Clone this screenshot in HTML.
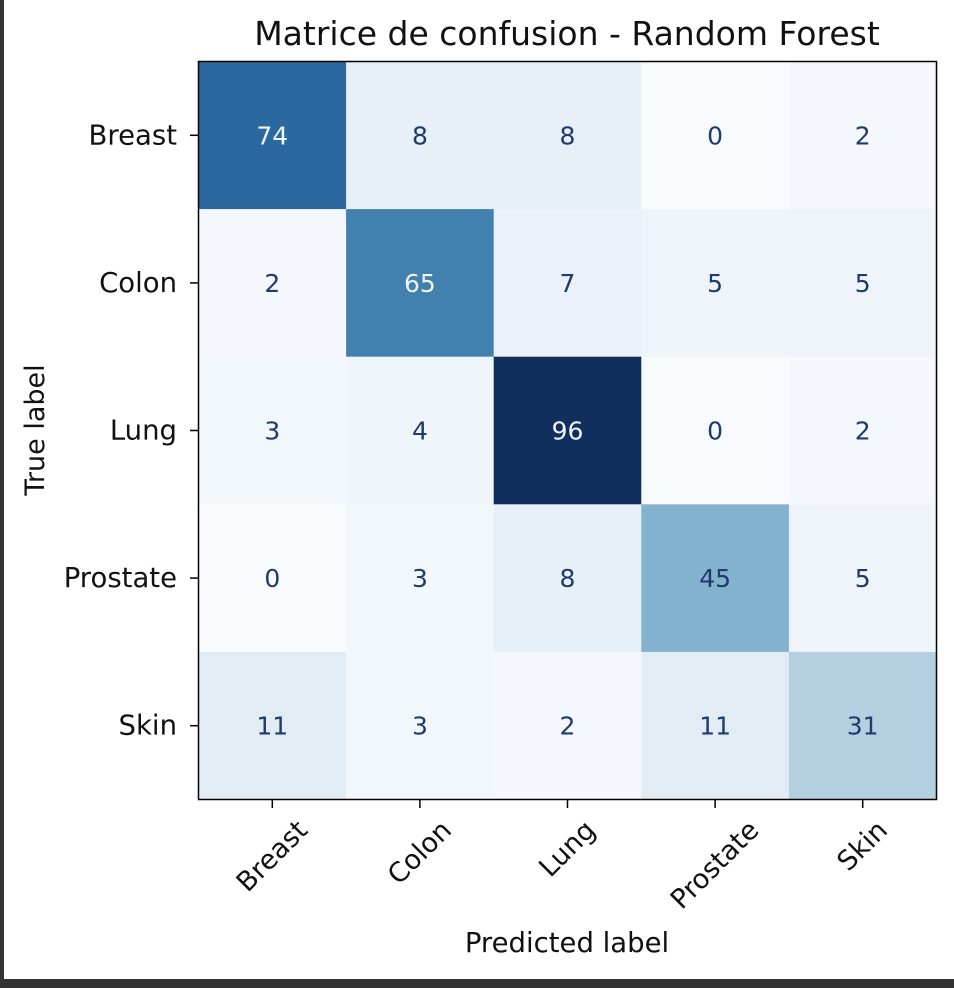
<!DOCTYPE html>
<html><head><meta charset="utf-8"><style>
html,body{margin:0;padding:0;background:#333;}
svg{display:block;font-family:"DejaVu Sans","Liberation Sans",sans-serif;}
</style></head><body>
<svg id="chart" width="954" height="988" viewBox="0 0 954 988">
<rect x="4" y="0" width="950" height="979" fill="#fff"/>
<text x="567" y="45" font-size="33" text-anchor="middle" fill="#111">Matrice de confusion - Random Forest</text>
<g id="cells"></g>
<rect x="198.5" y="61.5" width="738" height="738" fill="none" stroke="#000" stroke-width="1.5"/>
<g id="ticks"></g>
<text x="567" y="952" font-size="27.5" text-anchor="middle" fill="#111">Predicted label</text>
<text transform="translate(44,430) rotate(-90)" font-size="27" text-anchor="middle" fill="#111">True label</text>
</svg>
<script>
const trueLabels=["Breast","Colon","Lung","Prostate","Skin"];
const predLabels=["Breast","Colon","Lung","Prostate","Skin"];
const row0=[74,8,8,0,2];
const row1=[2,65,7,5,5];
const row2=[3,4,96,0,2];
const row3=[0,3,8,45,5];
const row4=[11,3,2,11,31];
const matrix=[row0,row1,row2,row3,row4];

const NS="http://www.w3.org/2000/svg";
const L=198.5,T=61.5,W=738,H=738;
const n=predLabels.length;
const cw=W/n,ch=H/trueLabels.length;
const xs=i=>L+i*cw, ys=j=>T+j*ch;
const all=matrix.flat();
const vmin=Math.min(...all),vmax=Math.max(...all);
const stops=["#f7fbff","#deebf7","#c6dbef","#9ecae1","#6baed6","#4292c6","#2171b5","#08519c","#08306b"];
function hex(h){return [1,3,5].map(k=>parseInt(h.substr(k,2),16));}
function desat(c){const l=0.3*c[0]+0.59*c[1]+0.11*c[2];return c.map(v=>Math.round(Math.max(0,Math.min(255,l+(v-l)*0.78))));}
function blues(t){t=Math.max(0,Math.min(1,t))*8;const i=Math.min(7,Math.floor(t)),f=t-i;
 const a=hex(stops[i]),b=hex(stops[i+1]);return "rgb("+desat(a.map((v,k)=>v+(b[k]-v)*f)).join(",")+")";}
const cells=document.getElementById("cells"),ticks=document.getElementById("ticks");
const thr=(vmin+vmax)/2;
matrix.forEach((row,j)=>row.forEach((v,i)=>{
 const r=document.createElementNS(NS,"rect");
 r.setAttribute("x",xs(i));r.setAttribute("y",ys(j));r.setAttribute("width",cw+0.5);r.setAttribute("height",ch+0.5);
 r.setAttribute("fill",blues((v-vmin)/(vmax-vmin)));
 
 
 cells.appendChild(r);
 const t=document.createElementNS(NS,"text");
 t.setAttribute("x",xs(i)+cw/2);t.setAttribute("y",ys(j)+ch/2+9);
 t.setAttribute("text-anchor","middle");t.setAttribute("font-size","25");
 t.setAttribute("fill",v>thr?"#eef3fa":"#1f3a6e");
 t.textContent=v;
 
 
 cells.appendChild(t);
}));
trueLabels.forEach((lab,j)=>{
 const y=ys(j)+ch/2;
 const l=document.createElementNS(NS,"line");
 l.setAttribute("x1",190);l.setAttribute("x2",198);l.setAttribute("y1",y);l.setAttribute("y2",y);l.setAttribute("stroke","#000");l.setAttribute("stroke-width","1.5");
 
 
 ticks.appendChild(l);
 const t=document.createElementNS(NS,"text");
 t.setAttribute("x",177);t.setAttribute("y",y+9);t.setAttribute("text-anchor","end");t.setAttribute("font-size","27.5");t.setAttribute("fill","#111");
 t.textContent=lab;
 
 
 ticks.appendChild(t);
});
predLabels.forEach((lab,i)=>{
 const x=xs(i)+cw/2;
 const l=document.createElementNS(NS,"line");
 l.setAttribute("x1",x);l.setAttribute("x2",x);l.setAttribute("y1",800);l.setAttribute("y2",808);l.setAttribute("stroke","#000");l.setAttribute("stroke-width","1.5");
 
 
 ticks.appendChild(l);
 const t=document.createElementNS(NS,"text");
 t.setAttribute("text-anchor","middle");t.setAttribute("font-size","27");t.setAttribute("fill","#111");
 t.setAttribute("dominant-baseline","central");
 t.textContent=lab;
 
 
 ticks.appendChild(t);
 const w=t.getComputedTextLength(),h=22;
 const half=(w+h)/(2*Math.SQRT2);
 const cy=818+half;
 t.setAttribute("x",x);t.setAttribute("y",cy);
 t.setAttribute("transform","rotate(-45 "+x+" "+cy+")");
});
</script>
</body></html>
